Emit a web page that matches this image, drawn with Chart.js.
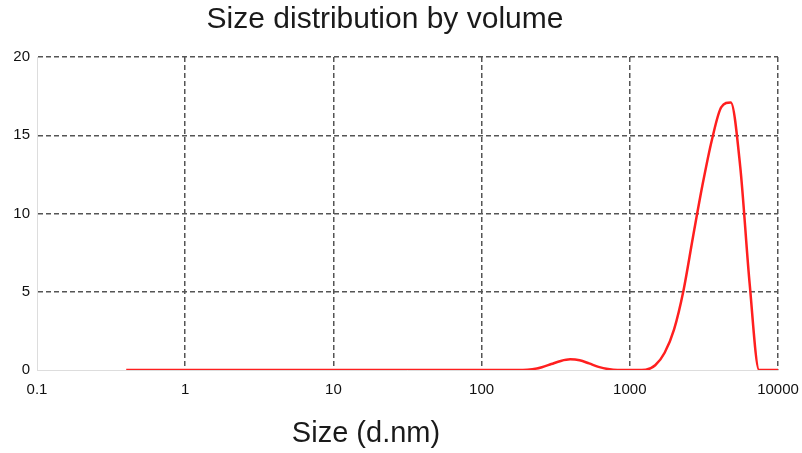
<!DOCTYPE html>
<html>
<head>
<meta charset="utf-8">
<script src="https://cdn.jsdelivr.net/npm/chart.js@4.4.1/dist/chart.umd.min.js"></script>
<style>
  html, body { margin: 0; padding: 0; background: #fff; }
  #wrap { width: 802px; height: 453px; }
</style>
</head>
<body>
<div id="wrap"><canvas id="c" width="802" height="453"></canvas></div>
<script>
const chartTitle = 'Size distribution by volume';
const xTitle = 'Size (d.nm)';

// size classes (d.nm)
const sizes = [
  0.4, 0.4632, 0.5365, 0.6213, 0.7195, 0.8332, 0.9649, 1.117, 1.294, 1.499,
  1.736, 2.010, 2.328, 2.696, 3.122, 3.615, 4.187, 4.849, 5.615, 6.503,
  7.531, 8.721, 10.10, 11.70, 13.54, 15.69, 18.17, 21.04, 24.36, 28.21,
  32.67, 37.84, 43.82, 50.75, 58.77, 68.06, 78.82, 91.28, 105.7, 122.4,
  141.8, 164.2, 190.1, 220.2, 255.0, 295.3, 342.0, 396.1, 458.7, 531.2,
  615.1, 712.4, 825.0, 955.4, 1106, 1281, 1484, 1718, 1990, 2305,
  2669, 3091, 3580, 4145, 4801, 5560, 6439, 7456, 8635, 10000
];
// volume (%)
const volume = [
  0, 0, 0, 0, 0, 0, 0, 0, 0, 0,
  0, 0, 0, 0, 0, 0, 0, 0, 0, 0,
  0, 0, 0, 0, 0, 0, 0, 0, 0, 0,
  0, 0, 0, 0, 0, 0, 0, 0, 0, 0,
  0, 0, 0, 0.05, 0.18, 0.38, 0.58, 0.68, 0.62, 0.42,
  0.2, 0.06, 0, 0, 0, 0.02, 0.3, 1.1, 2.6, 5.1,
  8.5, 11.8, 14.7, 16.8, 17.1, 13.0, 5.5, 0, 0, 0
];
const xTicks = [0.1, 1, 10, 100, 1000, 10000];
const yTicks = [0, 5, 10, 15, 20];

const titles = {
  id: 'titles',
  afterDraw(chart) {
    const { ctx } = chart;
    ctx.save();
    ctx.fillStyle = '#1a1a1a';
    ctx.textAlign = 'center';
    ctx.textBaseline = 'alphabetic';
    ctx.font = '30px "Liberation Sans", Arial, sans-serif';
    ctx.fillText(chartTitle, 385, 28);
    ctx.font = '29px "Liberation Sans", Arial, sans-serif';
    ctx.fillText(xTitle, 366, 442);
    ctx.restore();
  }
};

const gridDash = [5, 3];
const tickFont = { family: '"Liberation Sans", Arial, sans-serif', size: 15 };

new Chart(document.getElementById('c'), {
  type: 'scatter',
  data: {
    datasets: [{
      data: sizes.map((s, i) => ({ x: s, y: volume[i] })),
      showLine: true,
      borderColor: '#ff1f1f',
      borderWidth: 2.5,
      pointRadius: 0,
      cubicInterpolationMode: 'monotone',
      fill: false
    }]
  },
  options: {
    responsive: false,
    animation: false,
    layout: { padding: { top: 57, right: 24, bottom: 0, left: 0 } },
    plugins: { legend: { display: false }, tooltip: { enabled: false } },
    scales: {
      x: {
        type: 'logarithmic',
        min: 0.1,
        max: 10000,
        afterBuildTicks: s => { s.ticks = xTicks.map(v => ({ value: v })); },
        afterFit: s => { s.height = 83; s.paddingLeft = 0; s.paddingRight = 0; },
        ticks: {
          color: '#111',
          font: tickFont,
          padding: 11,
          maxRotation: 0,
          autoSkip: false,
          callback: v => String(v)
        },
        grid: {
          color: ctx => ctx.index === 0 ? 'rgba(0,0,0,0)' : '#555',
          lineWidth: 1.5,
          drawTicks: false
        },
        border: { display: true, color: '#ddd', width: 1, dash: gridDash }
      },
      y: {
        min: 0,
        max: 20,
        afterBuildTicks: s => { s.ticks = yTicks.map(v => ({ value: v })); },
        afterFit: s => { s.width = 37; s.paddingTop = 0; s.paddingBottom = 0; },
        ticks: { color: '#111', font: tickFont, padding: 7 },
        grid: {
          color: ctx => ctx.index === 0 ? 'rgba(0,0,0,0)' : '#555',
          lineWidth: 1.5,
          drawTicks: false
        },
        border: { display: true, color: '#ddd', width: 1, dash: gridDash }
      }
    }
  },
  plugins: [titles]
});
</script>
</body>
</html>
